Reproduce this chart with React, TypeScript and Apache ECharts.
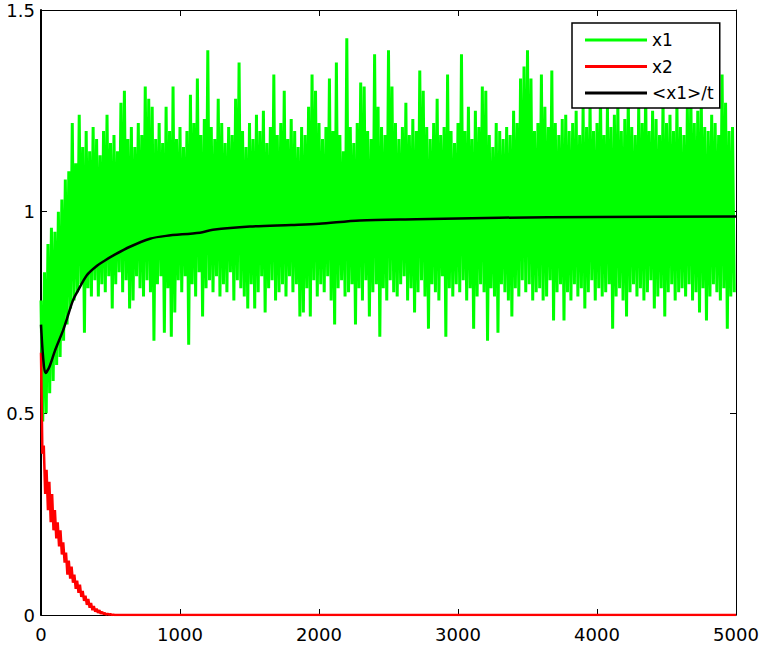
import React, { useEffect, useRef } from "react";
import * as echarts from "echarts";

// x1: noisy signal, per 25-unit bin: peak (high) and trough (low)
const x1Step = 25;
const x1High = [
  0.78, 0.85, 0.92, 0.96, 0.95, 1.0, 1.03, 1.08, 1.1, 1.22,
  1.12, 1.24, 1.16, 1.2, 1.15, 1.21, 1.18, 1.14, 1.2, 1.24,
  1.17, 1.19, 1.15, 1.27, 1.3, 1.18, 1.21, 1.16, 1.22, 1.19,
  1.31, 1.28, 1.26, 1.18, 1.22, 1.17, 1.26, 1.2, 1.31, 1.18,
  1.21, 1.16, 1.2, 1.29, 1.22, 1.33, 1.19, 1.23, 1.4, 1.21,
  1.18, 1.28, 1.22, 1.17, 1.21, 1.19, 1.28, 1.37, 1.2, 1.16,
  1.22, 1.18, 1.24, 1.2, 1.25, 1.17, 1.21, 1.34, 1.19, 1.22,
  1.3, 1.18, 1.23, 1.2, 1.16, 1.21, 1.19, 1.26, 1.34, 1.3,
  1.22, 1.18, 1.21, 1.33, 1.2, 1.37, 1.19, 1.15, 1.43, 1.21,
  1.17, 1.22, 1.32, 1.31, 1.2, 1.18, 1.39, 1.26, 1.21, 1.19,
  1.4, 1.31, 1.22, 1.18, 1.21, 1.27, 1.19, 1.23, 1.2, 1.35,
  1.3, 1.21, 1.18, 1.22, 1.28, 1.19, 1.21, 1.34, 1.2, 1.17,
  1.22, 1.39, 1.2, 1.26, 1.18, 1.25, 1.21, 1.31, 1.3, 1.19,
  1.16, 1.22, 1.2, 1.18, 1.21, 1.19, 1.25, 1.22, 1.33, 1.36,
  1.4, 1.33, 1.2, 1.22, 1.34, 1.26, 1.21, 1.35, 1.22, 1.19,
  1.23, 1.24, 1.2, 1.22, 1.25, 1.19, 1.26, 1.21, 1.27, 1.2,
  1.22, 1.3, 1.19, 1.26, 1.21, 1.24, 1.27, 1.2, 1.23, 1.29,
  1.21, 1.19, 1.26, 1.22, 1.31, 1.2, 1.25, 1.23, 1.19, 1.28,
  1.22, 1.24, 1.2, 1.27, 1.21, 1.19, 1.26, 1.3, 1.22, 1.25,
  1.28, 1.21, 1.2, 1.24, 1.22, 1.19, 1.34, 1.27, 1.2, 1.21,
];
const x1Low = [
  0.48, 0.5, 0.55, 0.58, 0.62, 0.64, 0.68, 0.72, 0.76, 0.78,
  0.8, 0.82, 0.7, 0.81, 0.79, 0.83, 0.79, 0.82, 0.8, 0.84,
  0.76, 0.82, 0.85, 0.8, 0.83, 0.76, 0.78, 0.84, 0.81, 0.79,
  0.83, 0.8, 0.68, 0.82, 0.84, 0.7, 0.81, 0.69, 0.75, 0.83,
  0.8, 0.84, 0.67, 0.82, 0.79, 0.85, 0.74, 0.81, 0.83, 0.8,
  0.84, 0.79, 0.82, 0.8, 0.85, 0.78, 0.83, 0.81, 0.79, 0.76,
  0.82, 0.76, 0.8, 0.84, 0.75, 0.81, 0.83, 0.78, 0.8, 0.82,
  0.79, 0.84, 0.8, 0.82, 0.74, 0.75, 0.81, 0.74, 0.83, 0.79,
  0.82, 0.8, 0.84, 0.78, 0.72, 0.81, 0.83, 0.79, 0.8, 0.82,
  0.72, 0.81, 0.78, 0.83, 0.74, 0.8, 0.82, 0.69, 0.81, 0.78,
  0.83, 0.8, 0.79, 0.82, 0.84, 0.78, 0.81, 0.75, 0.8, 0.83,
  0.79, 0.71, 0.82, 0.8, 0.78, 0.84, 0.69, 0.81, 0.79, 0.82,
  0.8, 0.83, 0.78, 0.81, 0.71, 0.79, 0.82, 0.8, 0.68, 0.81,
  0.79, 0.7, 0.82, 0.8, 0.78, 0.74, 0.81, 0.79, 0.83, 0.8,
  0.82, 0.78, 0.8, 0.81, 0.78, 0.79, 0.83, 0.73, 0.8, 0.82,
  0.73, 0.8, 0.78, 0.82, 0.79, 0.81, 0.76, 0.8, 0.83, 0.78,
  0.81, 0.79, 0.8, 0.82, 0.71, 0.79, 0.81, 0.78, 0.74, 0.8,
  0.82, 0.79, 0.81, 0.78, 0.8, 0.83, 0.76, 0.79, 0.81, 0.74,
  0.8, 0.82, 0.78, 0.8, 0.81, 0.79, 0.82, 0.78, 0.8, 0.75,
  0.81, 0.73, 0.79, 0.82, 0.8, 0.78, 0.81, 0.71, 0.79, 0.8,
];

// x2: decaying signal, per 20-unit bin (upper / lower edge of the red band), then zero
const x2Step = 20;
const x2High = [
  0.65, 0.42, 0.36, 0.33, 0.3, 0.26, 0.23, 0.21, 0.18, 0.155,
  0.135, 0.12, 0.1, 0.085, 0.075, 0.06, 0.048, 0.04, 0.03, 0.022,
  0.016, 0.012, 0.008, 0.005, 0.003, 0.002, 0.001,
];
const x2Low = [
  0.4, 0.3, 0.26, 0.23, 0.21, 0.19, 0.17, 0.15, 0.13, 0.1,
  0.09, 0.08, 0.065, 0.055, 0.045, 0.035, 0.025, 0.018, 0.012, 0.008,
  0.005, 0.003, 0.002, 0.001, 0.001, 0, 0,
];
const x2TailT = [540, 5000];
const x2TailV = [0, 0];

// <x1>/t running mean
const meanT = [0, 15, 32, 60, 100, 158, 187, 230, 259, 331, 403, 460, 518, 640, 784, 900, 1143, 1237, 1503, 1800, 2000, 2294, 2700, 3300, 4000, 5000];
const meanV = [0.72, 0.64, 0.6, 0.615, 0.655, 0.705, 0.735, 0.78, 0.8, 0.843, 0.866, 0.879, 0.891, 0.913, 0.933, 0.94, 0.948, 0.955, 0.963, 0.967, 0.97, 0.978, 0.981, 0.985, 0.987, 0.988];

const xTicks = { min: 0, max: 5000, interval: 1000 };
const yTicks = { min: 0, max: 1.5, interval: 0.5 };
const legendNames = ["x1", "x2", "<x1>/t"];

export default function App() {
  const ref = useRef<HTMLDivElement>(null);
  useEffect(() => {
    if (!ref.current) return;
    const chart = echarts.init(ref.current, null, { renderer: "svg" });

    const x1Data: number[][] = [];
    x1High.forEach((h, i) => {
      x1Data.push([i * x1Step, h]);
      x1Data.push([i * x1Step + x1Step / 2, x1Low[i]]);
    });
    const x2Data: number[][] = [];
    x2High.forEach((h, i) => {
      x2Data.push([i * x2Step, h]);
      x2Data.push([i * x2Step + x2Step / 2, x2Low[i]]);
    });
    x2TailT.forEach((t, i) => x2Data.push([t, x2TailV[i]]));
    const meanData = meanT.map((t, i) => [t, meanV[i]]);

    const font = "DejaVu Sans";
    const axisCommon = {
      type: "value" as const,
      splitLine: { show: false },
      axisTick: { show: true, inside: true, length: 6, lineStyle: { color: "#000", width: 1 } },
    };

    chart.setOption({
      animation: false,
      backgroundColor: "#fff",
      grid: { left: 41, right: 29, top: 10, bottom: 33, containLabel: false, outerBoundsMode: "none" },
      xAxis: [
        {
          ...axisCommon,
          ...xTicks,
          position: "bottom",
          axisLine: { show: true, onZero: false, lineStyle: { color: "#000", width: 1 } },
          axisLabel: {
            color: "#000",
            fontSize: 18,
            fontFamily: font,
            margin: 10,
            formatter: (v: number) => String(v),
          },
        },
        {
          ...axisCommon,
          ...xTicks,
          position: "top",
          axisLine: { show: true, onZero: false, lineStyle: { color: "#000", width: 1 } },
          axisLabel: { show: false },
        },
      ],
      yAxis: [
        {
          ...axisCommon,
          ...yTicks,
          position: "left",
          axisLine: { show: true, onZero: false, lineStyle: { color: "#000", width: 2 } },
          axisLabel: {
            color: "#000",
            fontSize: 18,
            fontFamily: font,
            margin: 6,
            formatter: (v: number) => String(v),
          },
        },
        {
          ...axisCommon,
          ...yTicks,
          position: "right",
          axisLine: { show: true, onZero: false, lineStyle: { color: "#000", width: 1 } },
          axisLabel: { show: false },
        },
      ],
      legend: {
        data: legendNames,
        orient: "vertical",
        left: 572,
        top: 23,
        backgroundColor: "#fff",
        borderColor: "#000",
        borderWidth: 1.5,
        borderRadius: 0,
        padding: [8, 6, 6, 13],
        icon: "rect",
        itemWidth: 62,
        itemHeight: 3,
        itemGap: 8.5,
        itemTextGap: 7,
        textStyle: { color: "#000", fontSize: 17, fontFamily: font, lineHeight: 18 },
      },
      series: [
        {
          name: legendNames[0],
          type: "line",
          data: x1Data,
          symbol: "none",
          showSymbol: false,
          lineStyle: { color: "#00ff00", width: 3 },
          itemStyle: { color: "#00ff00" },
          z: 2,
        },
        {
          name: legendNames[1],
          type: "line",
          data: x2Data,
          symbol: "none",
          showSymbol: false,
          lineStyle: { color: "#ff0000", width: 2.5 },
          itemStyle: { color: "#ff0000" },
          z: 3,
        },
        {
          name: legendNames[2],
          type: "line",
          data: meanData,
          symbol: "none",
          showSymbol: false,
          smooth: 0.3,
          lineStyle: { color: "#000", width: 2.5 },
          itemStyle: { color: "#000" },
          z: 4,
        },
      ],
    });
    return () => chart.dispose();
  }, []);
  return (
    <div
      ref={ref}
      style={{ position: "absolute", left: 0, top: 0, width: 765, height: 648 }}
    />
  );
}
